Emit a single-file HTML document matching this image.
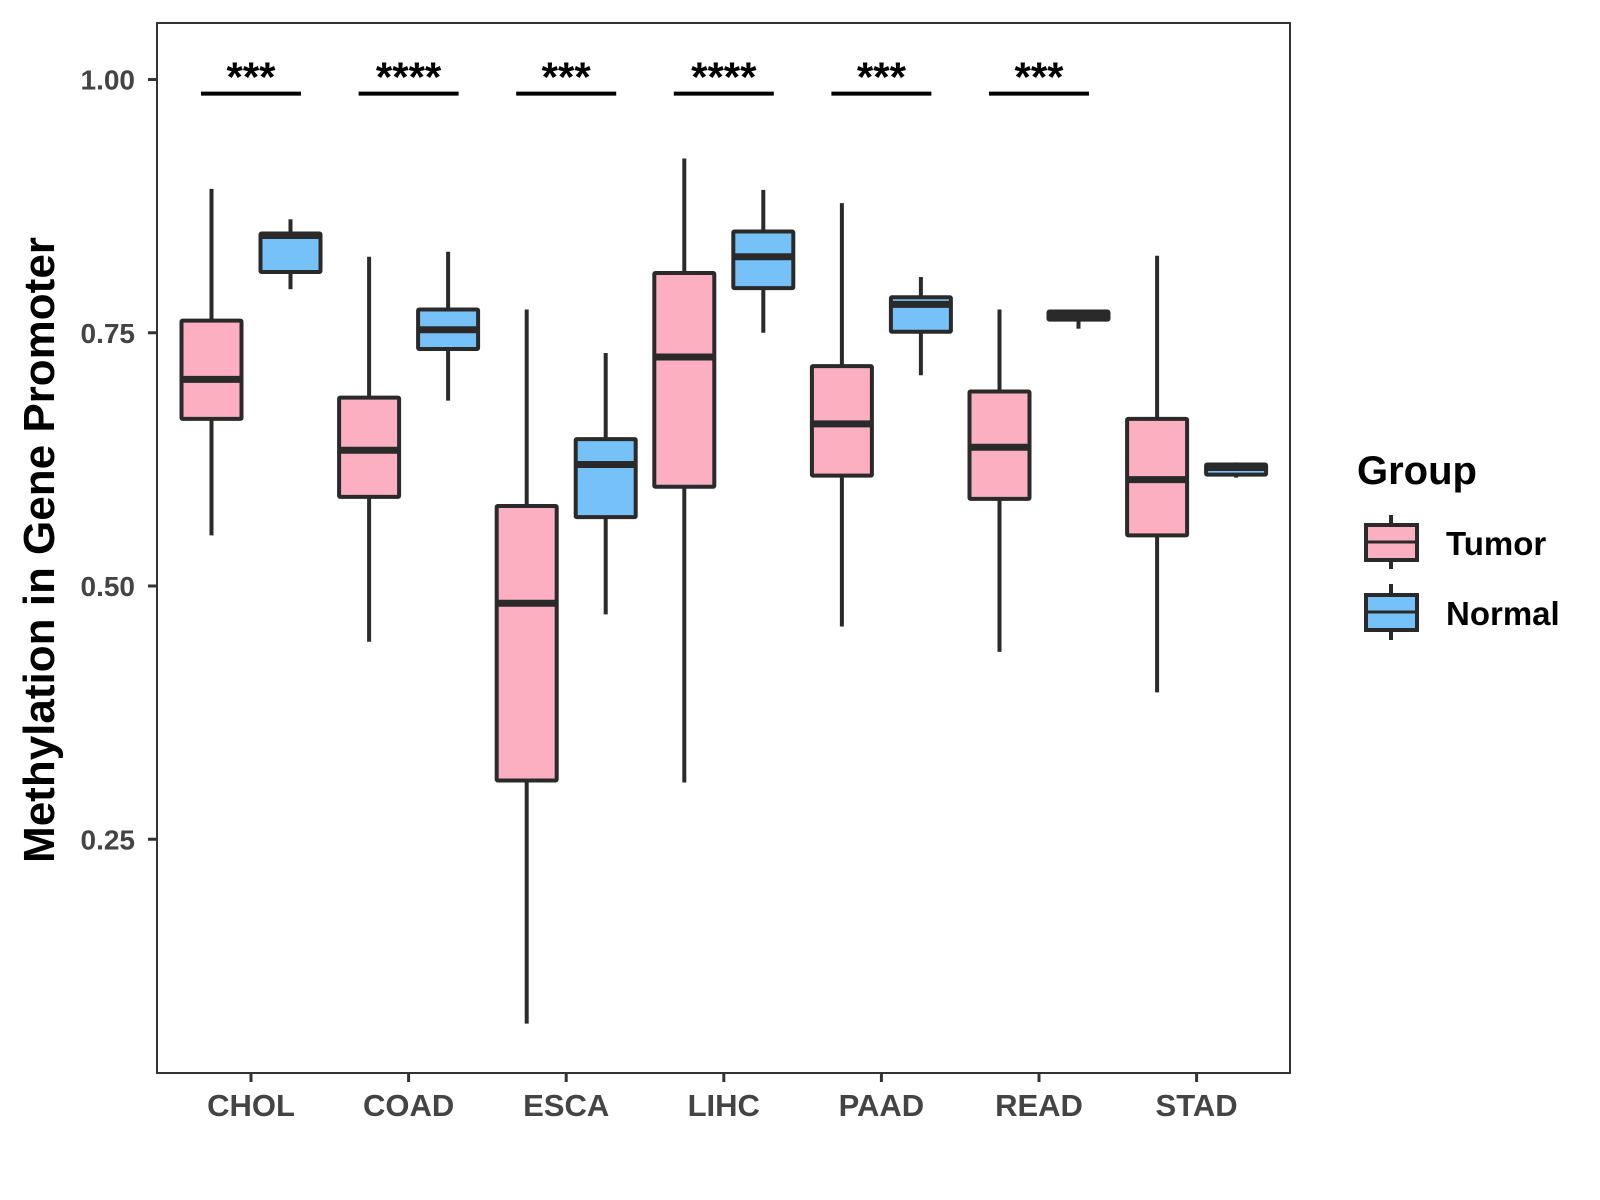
<!DOCTYPE html>
<html><head><meta charset="utf-8"><style>
body{margin:0;background:#fff}
svg{display:block;font-family:"Liberation Sans",Arial,sans-serif}
</style></head><body>
<svg id="chart" width="1600" height="1200" viewBox="0 0 1600 1200">
<rect x="0" y="0" width="1600" height="1200" fill="#fff"/>
<g id="plot"></g>
<text transform="translate(54,550) rotate(-90)" text-anchor="middle" font-size="44" font-weight="bold" fill="#000">Methylation in Gene Promoter</text>
<g>
<text x="1357" y="484" font-size="40" font-weight="bold">Group</text>
<g>
<line x1="1391" y1="515" x2="1391" y2="569" stroke="#2a2a2a" stroke-width="4"/>
<rect x="1366" y="525" width="51" height="35" fill="#fbafc0" stroke="#2a2a2a" stroke-width="4"/>
<line x1="1366" y1="542" x2="1417" y2="542" stroke="#2a2a2a" stroke-width="3"/>
<text x="1446" y="555" font-size="33" font-weight="bold">Tumor</text>
</g>
<g>
<line x1="1391" y1="584" x2="1391" y2="640" stroke="#2a2a2a" stroke-width="4"/>
<rect x="1366" y="595" width="51" height="35" fill="#76c1f7" stroke="#2a2a2a" stroke-width="4"/>
<line x1="1366" y1="612" x2="1417" y2="612" stroke="#2a2a2a" stroke-width="3"/>
<text x="1446" y="625" font-size="33" font-weight="bold">Normal</text>
</g>
</g>
</svg>
<script>
const categories=["CHOL","COAD","ESCA","LIHC","PAAD","READ","STAD"];
// [low, q1, median, q3, high]
const tumorStats=[[0.550,0.665,0.704,0.762,0.892],[0.445,0.588,0.634,0.686,0.825],[0.068,0.308,0.483,0.579,0.773],[0.306,0.598,0.726,0.809,0.922],[0.460,0.609,0.660,0.717,0.878],[0.435,0.586,0.637,0.692,0.773],[0.395,0.550,0.605,0.665,0.826]];
const normalStats=[[0.793,0.810,0.846,0.848,0.862],[0.683,0.734,0.753,0.773,0.830],[0.472,0.568,0.620,0.645,0.730],[0.750,0.794,0.825,0.850,0.891],[0.708,0.751,0.778,0.785,0.805],[0.754,0.763,0.767,0.771,0.772],[0.607,0.610,0.617,0.620,0.622]];
const signif=["***","****","***","****","***","***",""];
const yTicks=[0.25,0.50,0.75,1.00];
const yTickLabels=["0.25","0.50","0.75","1.00"];
const sigLevel=0.986;

const NS="http://www.w3.org/2000/svg";
const L=157,R=1290,T=23,B=1073;
function y(v){return 79.5+(1-v)*1013;}
function x(i){return 251+i*157.6;}
const g=document.getElementById('plot');
function el(tag,attrs,parent){const e=document.createElementNS(NS,tag);for(const k in attrs)e.setAttribute(k,attrs[k]);(parent||g).appendChild(e);return e;}
const border=el('rect',{x:L,y:T,width:R-L,height:B-T,fill:'none',stroke:'#333',"stroke-width":2});


yTicks.forEach((v,i)=>{
  const t=el('line',{x1:L-9,x2:L,y1:y(v),y2:y(v),stroke:'#333',"stroke-width":3});
  
  
  const lb=el('text',{x:L-22,y:y(v)+10,"text-anchor":"end","font-size":28,"font-weight":"bold",fill:"#444"});
  lb.textContent=yTickLabels[i];
  
  
});
function box(cx,s,fill,name){
  const bg=el('g',{});
  
  
  const w=60;
  el('line',{x1:cx,x2:cx,y1:y(s[4]),y2:y(s[3]),stroke:'#2a2a2a',"stroke-width":4},bg);
  el('line',{x1:cx,x2:cx,y1:y(s[1]),y2:y(s[0]),stroke:'#2a2a2a',"stroke-width":4},bg);
  el('rect',{x:cx-w/2,y:y(s[3]),width:w,height:Math.max(y(s[1])-y(s[3]),1),fill:fill,stroke:'#2a2a2a',"stroke-width":4,rx:1},bg);
  el('line',{x1:cx-w/2,x2:cx+w/2,y1:y(s[2]),y2:y(s[2]),stroke:'#2a2a2a',"stroke-width":7},bg);
}
categories.forEach((c,i)=>{
  const cx=x(i);
  box(cx-39.5,tumorStats[i],'#fbafc0','box-tumor-'+c.toLowerCase());
  box(cx+39.5,normalStats[i],'#76c1f7','box-normal-'+c.toLowerCase());
  const t=el('line',{x1:cx,x2:cx,y1:B,y2:B+9,stroke:'#333',"stroke-width":3});
  
  
  const lb=el('text',{x:cx,y:B+43,"text-anchor":"middle","font-size":31,"font-weight":"bold",fill:"#444"});
  lb.textContent=c;
  
  
  if(signif[i]){
    const sl=el('line',{x1:cx-50,x2:cx+50,y1:y(sigLevel),y2:y(sigLevel),stroke:'#000',"stroke-width":4});
    
    
    const st=el('text',{x:cx,y:y(sigLevel)-2,"text-anchor":"middle","font-size":42,"font-weight":"bold",fill:"#000"});
    st.textContent=signif[i];
    
    
  }
});
</script>
</body></html>
